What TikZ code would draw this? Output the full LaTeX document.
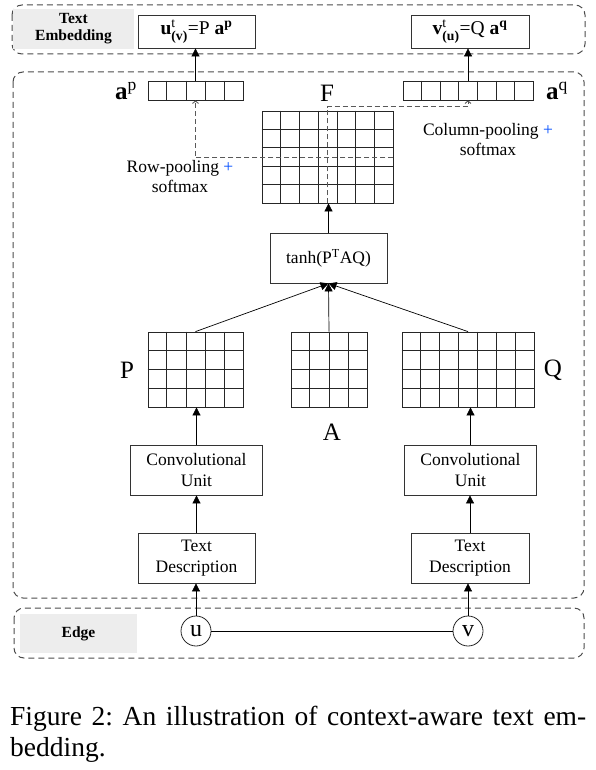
\documentclass[tikz,border=0pt]{standalone}
\usepackage{fontspec}
\setmainfont{Liberation Serif}
\usepackage{amsmath}
\usetikzlibrary{arrows.meta,calc,fit}
\newcommand\fs[2]{\fontsize{#1}{#2}\selectfont}
\newcommand\gmat[7]{% name, x0, y0, x1, y1, ncols, nrows
  \node[matbox, fit={(#2,#3) (#4,#5)}] (#1) {};
  \pgfmathtruncatemacro\ncm{#6-1}
  \pgfmathtruncatemacro\nrm{#7-1}
  \foreach \i in {1,...,\ncm}
    \draw[cellline] ($(#1.north west)!\i/#6!(#1.north east)$) -- ($(#1.south west)!\i/#6!(#1.south east)$);
  \ifnum#7>1
  \foreach \j in {1,...,\nrm}
    \draw[cellline] ($(#1.north west)!\j/#7!(#1.south west)$) -- ($(#1.north east)!\j/#7!(#1.south east)$);
  \fi
}
\tikzset{
  dbox/.style={draw=black!70, dash pattern=on 6pt off 4pt, rounded corners=10pt, line width=1pt},
  gbox/.style={fill=black!7, draw=none, inner sep=0pt, align=center, font=\bfseries\fs{15.5}{17}},
  blk/.style={draw=black!80, line width=0.8pt, fill=white, inner sep=0pt, align=center, font=\fs{17.5}{21}},
  matbox/.style={draw=black!85, line width=0.8pt, inner sep=0pt},
  cellline/.style={draw=black!85, line width=0.7pt},
  arr/.style={-{Triangle[length=8pt,width=8pt]}, line width=0.7pt},
  darr/.style={draw=black!65, dash pattern=on 5pt off 3pt, line width=0.9pt, -{Straight Barb[length=2.5pt,width=6pt]}},
  big/.style={font=\fs{25}{27}, inner sep=0pt},
  lab/.style={font=\fs{17.5}{20}, align=center, inner sep=0pt},
  circ/.style={circle, draw=black!85, line width=0.8pt, fill=white, minimum size=30pt, inner sep=0pt, font=\fs{24}{24}},
}
\begin{document}
\begin{tikzpicture}[x=1pt,y=-1pt]
\useasboundingbox (0,0) rectangle (596,770);
% containers
\draw[dbox] (12,5) rectangle (585,54);
\draw[dbox] (13,72) rectangle (584,598);
\draw[dbox] (14,608) rectangle (584,658);
\node[gbox, minimum width=121pt, minimum height=40pt] (telab) at (73.5,29) {Text\\Embedding};
\node[gbox, minimum width=117pt, minimum height=39pt] (edgelab) at (78.5,633.5) {Edge};

% output boxes
\node[blk, minimum width=117pt, minimum height=33pt, font=\fs{19.5}{21}] (ub) at (196.5,31.5)
  {\textbf{u}$^{\text{\normalfont t}}_{\text{\bfseries (v)}}$=P \textbf{a}\textsuperscript{\textbf{p}}};
\node[blk, minimum width=118pt, minimum height=33pt, font=\fs{19.5}{21}] (vb) at (470,31.5)
  {\textbf{v}$^{\text{\normalfont t}}_{\text{\bfseries (u)}}$=Q \textbf{a}\textsuperscript{\textbf{q}}};

% attention vectors
\gmat{ap}{148}{81}{243}{100}{5}{1}
\gmat{aq}{403}{81}{533}{100}{7}{1}
\node[big] (aplab) at (126,91) {\textbf{a}\textsuperscript{p}};
\node[big] (aqlab) at (557,91) {\textbf{a}\textsuperscript{q}};

% F matrix
\gmat{F}{262}{111}{393}{203}{7}{5}
\node[big] (Flab) at (327,93) {F};

% tanh
\node[blk, minimum width=117pt, minimum height=50pt] (tanh) at (328.5,258) {tanh(P\textsuperscript{T}AQ)};

% P, A, Q
\gmat{P}{148}{332}{243}{407}{5}{4}
\gmat{A}{291}{332}{367}{407}{4}{4}
\gmat{Q}{402}{332}{534}{407}{7}{4}
\node[big] (Plab) at (127,370) {P};
\node[big] (Qlab) at (553,370) {Q};
\node[big] (Alab) at (332,432) {A};

% conv + text
\node[blk, minimum width=132pt, minimum height=50pt] (cu1) at (196.5,470) {Convolutional\\Unit};
\node[blk, minimum width=132pt, minimum height=50pt] (cu2) at (470.5,470) {Convolutional\\Unit};
\node[blk, minimum width=117pt, minimum height=50pt] (td1) at (196.5,558) {Text\\Description};
\node[blk, minimum width=118pt, minimum height=50pt] (td2) at (470,558) {Text\\Description};

% edge nodes
\node[circ] (u) at (196,631) {u};
\node[circ] (v) at (468,631) {v};
\draw[line width=0.8pt] (u) -- (v);

% arrows
\draw[arr] (u.north) -- (u.north |- td1.south);
\draw[arr] (v.north) -- (v.north |- td2.south);
\draw[arr] (td1.north) -- (td1.north |- cu1.south);
\draw[arr] (td2.north) -- (td2.north |- cu2.south);
\draw[arr] (cu1.north) -- (cu1.north |- P.south);
\draw[arr] (cu2.north) -- (cu2.north |- Q.south);
\draw[arr] (P.north) -- (tanh.south);
\draw[arr] (A.north) -- (tanh.south);
\draw[arr] (Q.north) -- (tanh.south);
\draw[arr] (tanh.north) -- (tanh.north |- F.south);
\coordinate (aptop) at (ap.north);
\coordinate (aqtop) at ($(aq.north west)!3.5/7!(aq.north east)$);
\draw[arr] (aptop) -- (aptop |- ub.south);
\draw[arr] (aqtop) -- (aqtop |- vb.south);

% pooling paths
\coordinate (aphit) at (ap.south);
\coordinate (aqhit) at ($(aq.south west)!3.5/7!(aq.south east)$);
\coordinate (rowstart) at ($(F.north east)!0.51!(F.south east)$);
\draw[darr] (rowstart) -| (aphit);
\draw[darr] (F.south) -- ($(F.north)+(0,-4)$) -| (aqhit);
\node[lab] (rowlab) at (180,177) {Row-pooling \textcolor{blue!70!cyan}{+}\\softmax};
\node[lab] (collab) at (488,140) {Column-pooling \textcolor{blue!70!cyan}{+}\\softmax};

% caption
\node[anchor=base west, inner sep=0pt, font=\fs{27.5}{31}] (cap) at (10,725)
  {\parbox[t]{576pt}{Figure 2:\ An illustration of context-aware text em-\linebreak bedding.}};
\end{tikzpicture}
\end{document}
